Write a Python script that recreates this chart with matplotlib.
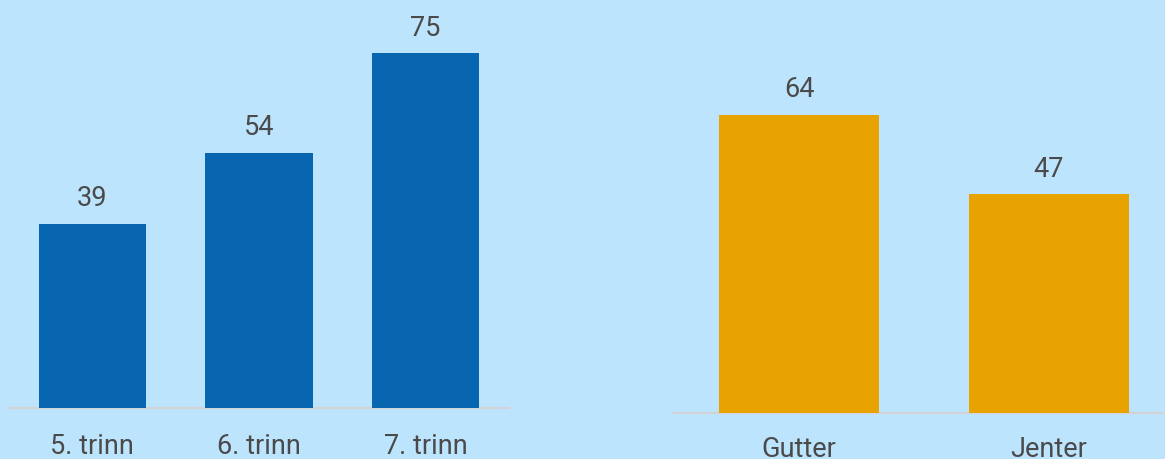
import matplotlib.pyplot as plt

# data
grade_labels = ['5. trinn', '6. trinn', '7. trinn']
grade_values = [39, 54, 75]
gender_labels = ['Gutter', 'Jenter']
gender_values = [64, 47]

bg = '#bde4fd'
blue = '#0866b1'
orange = '#e8a300'
text_col = '#4a4a4a'
line_col = '#d2d3d6'

plt.rcParams['font.family'] = ['Roboto', 'DejaVu Sans']

W, H = 1165, 459
fig = plt.figure(figsize=(W / 100, H / 100), dpi=100, facecolor=bg)


def px_axes(x0, x1, base, top):
    # pixel coords (y from top of image) -> figure fraction
    return fig.add_axes([x0 / W, (H - base) / H, (x1 - x0) / W, (base - top) / H])


def draw(ax, labels, values, color, width, xmax, pad):
    ax.set_facecolor(bg)
    xs = range(len(values))
    ax.bar(xs, values, width=width, color=color, zorder=2)
    for x, v in zip(xs, values):
        ax.annotate(str(v), (x, v), xytext=(0, 12.5), textcoords='offset points',
                    ha='center', va='baseline', fontsize=19.5, color=text_col)
    ax.axhline(0, color=line_col, lw=1.6, zorder=1, clip_on=False)
    ax.set_xlim(-0.5, xmax)
    ax.set_ylim(0, 80)
    ax.set_xticks(list(xs))
    ax.set_xticklabels(labels, fontsize=19.5, color=text_col)
    ax.tick_params(axis='x', length=0, pad=pad)
    ax.set_yticks([])
    for s in ax.spines.values():
        s.set_visible(False)


ax1 = px_axes(9, 509, 408, 408 - 80 * 4.73)
draw(ax1, grade_labels, grade_values, blue, 0.643, 2.5, 18)

ax2 = px_axes(674, 1165, 413, 413 - 80 * 4.66)
draw(ax2, gender_labels, gender_values, orange, 0.64, 1.464, 16.5)

fig.savefig('out.png', dpi=100, facecolor=bg)
